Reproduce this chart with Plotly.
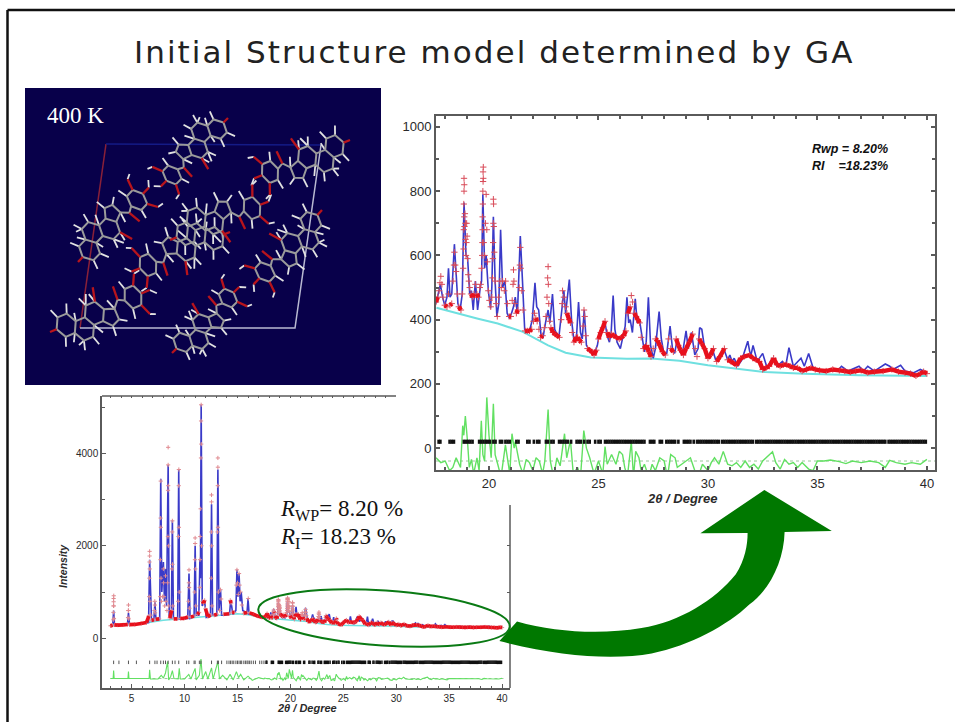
import math
import plotly.graph_objects as go

W, H = 955, 722

# ---------- values ----------
calc_lo_tt = [3.00,3.22,3.30,3.38,4.60,4.70,4.80,6.00,6.60,6.70,
              6.80,6.88,7.10,7.20,7.30,7.65,7.75,7.85,8.00,8.10,
              8.20,8.30,8.45,8.55,8.75,8.85,8.95,9.35,9.45,9.55,
              10.30,10.42,10.52,10.90,11.00,11.10,11.35,11.45,11.50,11.57,
              11.67,11.90,12.05,12.45,12.55,12.65,13.05,13.15,13.25,13.40,
              13.50,14.25,14.35,14.45,14.55,14.85,14.95,15.05,15.15,15.25,
              15.35,15.50,15.90,16.00,16.10,16.60,17.00,17.40]
calc_lo = [275,290,600,290,290,550,295,320,340,1700,
           600,370,390,780,400,410,3450,1000,1650,800,
           1500,700,3750,500,430,2550,430,410,3650,420,
           430,1400,430,470,2000,500,500,1700,1300,5050,
           700,800,450,480,2900,500,500,3650,600,1050,
           500,520,800,700,520,600,1480,900,1400,800,
           1000,600,550,850,520,520,480,450]

calc_tt = [17.58,17.68,17.78,17.88,17.98,18.08,18.15,18.22,18.30,18.42,
           18.50,18.58,18.68,18.78,18.86,18.95,19.02,19.12,19.20,19.28,
           19.38,19.48,19.60,19.66,19.72,19.80,19.87,19.97,20.07,20.13,
           20.20,20.28,20.36,20.45,20.53,20.62,20.73,20.83,20.93,21.03,
           21.12,21.20,21.30,21.43,21.53,21.63,21.75,21.87,21.98,22.10,
           22.18,22.27,22.38,22.47,22.58,22.70,22.78,22.90,23.00,23.10,
           23.20,23.32,23.42,23.50,23.67,23.77,23.88,24.00,24.09,24.18,
           24.26,24.35,24.45,24.58,24.70,24.82,24.95,25.05,25.15,25.30,
           25.40,25.50,25.58,25.67,25.75,25.85,26.00,26.10,26.22,26.30,
           26.38,26.45,26.55,26.68,26.77,26.87,26.97,27.10,27.18,27.28,
           27.38,27.50,27.60,27.77,27.87,28.00,28.12,28.27,28.38,28.48,
           28.60,28.72,28.85,29.00,29.10,29.25,29.40,29.55,29.62,29.72,
           29.85,30.00,30.20,30.35,30.55,30.75,30.90,31.00,31.10,31.20,
           31.35,31.55,31.82,31.95,32.06,32.25,32.50,32.70,32.95,33.15,
           33.40,33.55,33.70,33.90,34.25,34.40,34.60,34.80,35.10,35.50,
           35.90,36.10,36.40,36.90,37.10,37.30,37.60,38.10,38.30,38.45,
           38.80,39.00,39.40,39.70,40.00]
calc = [450,480,510,470,445,470,560,470,480,635,
        540,450,430,480,765,600,595,480,490,430,
        520,430,500,520,790,560,600,490,435,500,
        720,520,410,450,680,500,520,420,405,420,
        440,470,420,660,520,370,365,370,400,515,
        440,430,350,345,390,430,390,480,370,355,
        350,430,490,420,525,400,335,350,455,360,
        340,430,320,305,300,295,320,360,370,390,
        350,330,360,475,370,330,310,340,380,470,
        390,400,360,465,390,400,350,300,330,470,
        320,280,310,425,340,290,295,380,310,295,
        340,300,300,365,310,360,290,310,375,370,
        310,285,310,275,290,305,275,290,270,280,
        255,275,333,285,320,270,295,250,280,255,
        270,255,313,255,280,255,295,250,240,243,
        240,255,240,255,240,255,240,262,255,245,
        258,240,235,245,235]

obs_lo_tt = [3.00,3.10,3.20,3.27,3.28,3.29,3.30,3.30,3.31,3.31,3.33,3.38,3.70,4.20,4.62,4.66,4.68,4.70,4.71,4.73,
             4.80,5.30,5.90,6.40,6.62,6.66,6.68,6.69,6.70,6.70,6.71,6.73,6.80,6.90,7.10,7.16,7.19,7.20,7.22,7.30,
             7.60,7.70,7.72,7.74,7.75,7.76,7.78,7.82,7.92,8.00,8.02,8.06,8.12,8.20,8.24,8.34,8.40,8.43,8.44,8.45,
             8.45,8.46,8.47,8.50,8.60,8.78,8.82,8.84,8.85,8.86,8.90,9.00,9.30,9.40,9.43,9.45,9.46,9.47,9.50,9.60,
             9.95,10.30,10.38,10.41,10.42,10.43,10.46,10.60,10.88,10.96,10.98,11.00,11.00,11.02,11.06,11.20,11.38,11.44,11.46,11.48,
             11.52,11.55,11.56,11.57,11.58,11.60,11.70,11.80,11.90,11.98,12.20,12.46,12.52,12.54,12.55,12.55,12.56,12.60,12.80,13.06,
             13.12,13.14,13.15,13.15,13.16,13.20,13.30,13.40,13.46,13.70,14.20,14.32,14.40,14.50,14.70,14.90,14.95,15.00,15.08,15.15,
             15.20,15.30,15.42,15.60,15.90,16.02,16.15,16.50,16.90,17.30]
obs_lo = [270,275,285,400,560,700,790,860,920,700,430,290,285,290,300,450,600,720,600,420,
          295,300,320,340,480,900,1300,1650,1780,1880,1500,800,500,390,400,600,800,720,550,410,
          420,900,1700,2600,3400,2400,1300,800,900,1500,1200,900,700,1350,800,600,1200,2200,3200,3750,
          4130,3300,2000,700,440,600,1500,2300,2540,1600,700,420,420,800,2200,3300,3650,2400,1000,430,
          430,460,800,1200,1480,1100,650,460,480,1000,1700,2170,2050,1500,700,520,560,1100,1700,2200,
          2800,3900,4700,5050,4200,2000,800,760,820,640,470,500,1300,2300,3100,2950,2000,700,500,520,
          2300,3300,3900,3700,2400,1000,600,1050,850,520,530,820,760,560,560,1150,1480,1200,950,1400,
          1150,1000,720,540,560,860,550,520,480,455]

obs_tt = [17.58,17.66,17.72,17.76,17.80,17.85,17.90,17.98,18.08,18.15,18.22,18.30,18.36,18.40,18.42,18.46,18.50,18.55,18.62,18.72,
          18.78,18.82,18.84,18.85,18.85,18.86,18.86,18.87,18.87,18.88,18.90,18.92,18.93,18.95,18.97,18.98,19.00,19.02,19.05,19.08,
          19.12,19.18,19.25,19.32,19.38,19.45,19.52,19.58,19.62,19.66,19.69,19.70,19.71,19.71,19.72,19.72,19.73,19.73,19.74,19.74,
          19.76,19.80,19.84,19.87,19.90,19.93,19.97,20.02,20.08,20.13,20.16,20.18,20.19,20.20,20.20,20.21,20.22,20.24,20.28,20.33,
          20.38,20.44,20.50,20.56,20.62,20.70,20.76,20.84,20.92,21.00,21.06,21.10,21.12,21.14,21.18,21.25,21.32,21.38,21.41,21.43,
          21.45,21.50,21.56,21.65,21.75,21.85,21.95,22.03,22.08,22.14,22.20,22.28,22.36,22.45,22.53,22.60,22.65,22.68,22.70,22.71,
          22.73,22.77,22.83,22.92,23.02,23.12,23.22,23.30,23.34,23.36,23.42,23.50,23.56,23.66,23.72,23.80,23.88,23.98,24.05,24.14,
          24.22,24.30,24.34,24.37,24.42,24.50,24.60,24.70,24.80,24.90,25.00,25.10,25.20,25.30,25.40,25.50,25.60,25.70,25.82,25.95,
          26.05,26.15,26.25,26.35,26.45,26.50,26.56,26.64,26.72,26.80,26.88,26.95,27.05,27.20,27.30,27.40,27.50,27.60,27.70,27.80,
          27.92,28.05,28.20,28.30,28.42,28.55,28.65,28.75,28.88,29.00,29.15,29.30,29.42,29.50,29.60,29.72,29.85,30.00,30.12,30.25,
          30.40,30.55,30.75,30.90,31.05,31.30,31.50,31.65,31.90,32.05,32.20,32.35,32.50,32.65,32.80,33.00,33.15,33.30,33.45,33.60,
          33.75,33.90,34.10,34.30,34.50,34.70,34.90,35.10,35.40,35.70,36.00,36.25,36.50,36.75,37.00,37.30,37.60,38.00,38.40,38.70,
          39.00,39.25,39.50,39.70,39.85,40.00]
obs = [455,470,490,515,535,510,470,445,440,480,445,450,520,570,610,570,550,480,440,430,
       480,560,620,680,760,800,840,820,720,690,730,700,650,600,640,700,660,590,540,520,
       500,480,470,480,510,480,470,500,510,560,600,640,680,720,760,800,830,860,875,840,
       640,600,700,790,680,580,490,460,440,470,530,590,640,700,775,760,690,610,520,450,
       410,470,520,500,520,490,520,450,410,410,460,510,555,520,450,420,430,500,570,625,
       560,490,430,365,365,365,370,395,420,405,395,370,345,350,375,410,470,530,565,510,
       450,395,375,360,355,350,345,400,450,490,470,440,420,400,390,360,330,345,345,335,
       330,380,430,410,350,310,305,300,290,305,340,360,375,395,360,345,355,350,345,340,
       345,350,365,420,440,475,455,420,410,400,390,345,310,320,300,285,310,340,335,320,
       300,290,340,310,300,340,320,305,290,310,330,355,310,285,340,325,310,280,290,310,
       270,285,310,275,270,258,280,285,290,280,275,270,245,250,255,280,260,255,260,260,
       255,250,250,240,245,250,245,242,240,245,242,240,237,240,242,235,238,240,245,238,
       235,232,225,232,238,232]

bkg_tt = [3.0,6.0,8.0,10.0,12.0,14.0,15.0,16.0,17.0,17.6,18.5,19.5,20.4,21.55,22.7,23.5,24.65,26.3,27.4,28.7,30.0,31.3,32.6,34.4,36.9,40.0]
bkg = [265,320,390,430,470,500,530,510,470,437,420,403,388,362,320,297,282,278,279,272,258,248,237,232,227,225]

diff_lo_tt = [3.00,3.25,3.30,3.35,4.65,4.70,4.75,6.65,6.70,6.78,7.50,7.80,8.00,8.20,8.40,8.50,8.70,8.85,9.00,9.40,
              9.50,9.60,10.00,10.40,10.60,11.00,11.10,11.40,11.55,11.70,12.00,12.20,12.55,12.70,13.15,13.30,13.60,14.00,14.30,14.60,
              14.90,15.10,15.30,15.60,16.00,16.40,17.00,17.50]
diff_lo = [-870,-870,-700,-870,-870,-720,-870,-870,-680,-880,-880,-800,-860,-750,-500,-900,-820,-700,-870,-880,
           -650,-880,-880,-780,-880,-650,-900,-800,-450,-880,-720,-880,-640,-880,-500,-880,-800,-900,-780,-900,
           -720,-850,-780,-900,-820,-910,-850,-880]

diff_tt = [17.58,17.80,18.00,18.20,18.35,18.50,18.70,18.80,18.85,18.92,19.02,19.10,19.20,19.30,19.45,19.55,19.65,19.72,19.80,19.90,
           20.00,20.10,20.20,20.28,20.40,20.55,20.75,20.85,20.95,21.05,21.15,21.20,21.30,21.40,21.55,21.70,21.85,22.00,22.15,22.30,
           22.45,22.55,22.70,22.80,22.95,23.10,23.25,23.45,23.55,23.72,23.85,24.05,24.18,24.33,24.45,24.60,24.80,25.00,25.20,25.30,
           25.40,25.60,25.80,25.95,26.10,26.20,26.32,26.50,26.60,26.70,26.85,26.95,27.10,27.30,27.45,27.60,27.80,28.00,28.15,28.30,
           28.50,28.60,28.80,29.00,29.20,29.40,29.60,29.75,30.00,30.15,30.30,30.50,30.70,30.90,31.10,31.30,31.50,31.70,31.90,32.10,
           32.30,32.50,32.95,33.10,33.30,33.50,33.70,33.90,34.10,34.30,34.60,34.80,35.00,35.30,35.60,36.00,36.30,36.60,37.00,37.40,
           37.80,38.10,38.30,38.60,39.00,39.30,39.70,40.00]
diff = [-30,-45,-40,-70,-60,-30,-60,70,40,100,20,-60,-35,-80,-30,-70,85,-20,-40,158,
        40,-30,138,-20,-50,-90,10,-30,-80,45,0,20,-10,-50,-80,-35,-45,-70,-30,-40,
        -80,-40,120,-40,-90,-30,-55,45,-30,25,-80,-60,-90,55,0,-30,-80,-40,-80,5,
        -50,-20,-50,-10,-20,-60,-90,20,-90,-10,-30,-70,-50,-90,-50,-70,-30,-40,-90,-20,
        -30,-60,-50,-40,-30,-70,-80,-50,-70,-45,-30,-50,-10,-50,-55,-45,-60,-40,-60,-50,
        -65,-40,-11,-45,-65,-35,-50,-45,-60,-45,-65,-70,-40,-40,-37,-42,-48,-40,-45,-40,
        -45,-60,-38,-45,-50,-45,-50,-35]

refl_lo = [3.3,3.8,4.7,5.45,6.7,7.2,7.4,7.75,8.0,8.2,8.45,8.85,9.1,9.45,10.2,10.4,10.9,11.0,11.4,11.55,
           12.55,13.1,13.2,13.5,14.0,14.2,14.35,14.5,14.65,14.85,15.0,15.15,15.3,15.4,15.6,15.75,15.9,16.0,16.15,16.3,
           16.5,16.7,17.1,17.3,17.5]
refl = [17.7,17.78,18.2,18.3,18.4,18.85,18.95,19.05,19.15,19.25,19.55,19.65,19.75,19.85,19.95,20.05,20.2,20.3,20.5,20.6,
        20.75,20.85,20.95,21.25,21.35,21.75,21.85,22.05,22.2,22.3,22.6,22.7,22.85,22.95,23.2,23.3,23.4,23.5,23.6,23.75,
        24.0,24.1,24.2,24.35,24.5,24.6,24.85,25.0,25.1,25.3,25.4,25.5,25.6,25.7,25.8,25.9,26.0,26.1,26.2,26.3,
        26.4,26.5,26.6,26.7,26.8,26.9,27.0,27.1,27.35,27.45,27.55,27.8,27.9,28.1,28.2,28.3,28.4,28.5,28.65,28.9,
        29.0,29.1,29.2,29.35,29.5,29.6,29.7,29.8,29.9,30.0,30.1,30.2,30.3,30.4,30.5,30.65,30.75,30.85,30.95,31.05,
        31.15,31.25,31.35,31.45,31.55,31.65,31.75,31.85,31.95,32.05,32.2,32.3,32.4,32.5,32.6,32.7,32.8,32.9,33.0,33.1,
        33.2,33.3,33.4,33.5,33.6,33.7,33.8,33.9,34.0,34.1,34.2,34.3,34.4,34.5,34.6,34.7,34.8,34.9,35.0,35.1,
        35.2,35.3,35.4,35.5,35.6,35.7,35.8,35.9,36.0,36.1,36.2,36.3,36.4,36.5,36.6,36.7,36.8,36.9,37.0,37.1,
        37.2,37.3,37.4,37.5,37.6,37.7,37.8,37.9,38.0,38.1,38.25,38.35,38.45,38.55,38.65,38.75,38.85,38.95,39.05,39.15,
        39.25,39.35,39.45,39.55,39.65,39.75,39.85,39.95]

x_major_ticks = [5, 10, 15, 20, 25, 30, 35, 40]
top_ticks_left = [3,4,5,6,7,8,9,10,11,12,13,14,15,16,17,18,19,20,21,22,23,24,25,26,27,28,29]
right_ticks_left = [0, 1000, 2000]

DIFF_OFFSET_LEFT = -830

# crystal packing: ketone oxygen and sugar centre of each molecule on the panel
mol_ketone_x = [228, 78, 172, 322, 170, 230, 350, 50]
mol_ketone_y = [118, 262, 353, 210, 240, 232, 140, 332]
mol_sugar_x = [172, 137, 228, 265, 252, 148, 270, 133]
mol_sugar_y = [175, 200, 298, 272, 208, 265, 172, 297]
mol_flip = [1, -1, 1, -1, -1, 1, -1, 1]
MOL_WIDEN = 1.3

carbon_paths = [
    [(.08,0),(.14,.09),(.25,.09),(.31,0),(.25,-.09),(.14,-.09),(.08,0)],
    [(.25,.09),(.31,.18),(.42,.18),(.48,.09),(.42,0),(.31,0)],
    [(.48,.09),(.59,.09),(.65,0),(.59,-.09),(.48,-.09),(.42,0)],
    [(.59,.09),(.67,.16),(.76,.13),(.76,.03),(.65,0)],
    [(.76,.03),(.83,-.03),(.90,0)],
    [(.90,0),(.95,.09),(1.05,.09),(1.10,0),(1.05,-.09),(.95,-.09),(.90,0)],
]
hydrogen_bonds = [
    (.14,.09,.10,.17),(.14,-.09,.10,-.17),(.25,-.09,.29,-.17),(.31,.18,.28,.26),(.42,.18,.45,.26),
    (.31,.18,.24,.2),(.48,.09,.54,.18),(.48,-.09,.44,-.17),(.48,-.09,.53,-.18),(.59,-.09,.56,-.17),
    (.67,.16,.66,.25),(.76,.13,.84,.17),(.76,.03,.72,-.06),(.95,.09,.93,.18),(.95,-.09,.92,-.17),
    (1.10,.19,1.16,.21),(1.11,-.18,1.18,-.19),(1.20,0,1.26,.05),(.31,0,.33,-.07),(.25,.09,.20,.16),
]
oxygen_bonds = [
    (0,0,.08,0),(.83,-.03,.84,-.15),(1.05,.09,1.10,.19),(1.05,-.09,1.11,-.18),(1.10,0,1.20,0),(.59,-.09,.63,-.21),
]

# ---------- helpers ----------
def dom_x(a, b):
    return [a / W, b / W]

def dom_y(top, bottom):
    return [1 - bottom / H, 1 - top / H]

def flat_runs(xs, ys, sx, sy, limit):
    """Keep only the gently sloping runs, so the red line thickens along the base."""
    ox, oy = [], []
    for i in range(len(xs) - 1):
        dx = max(abs(xs[i + 1] - xs[i]) * sx, 0.01)
        dy = abs(ys[i + 1] - ys[i]) * sy
        if dy / dx < limit:
            ox += [xs[i], xs[i + 1], None]
            oy += [ys[i], ys[i + 1], None]
    return ox, oy

def place(u, v, k):
    kx, ky = mol_ketone_x[k], mol_ketone_y[k]
    dx, dy = mol_sugar_x[k] - kx, mol_sugar_y[k] - ky
    f = mol_flip[k] * MOL_WIDEN
    return kx + u * dx - f * v * dy, ky + u * dy + f * v * dx

def molecule_lines():
    gx, gy, wx, wy, rx, ry = [], [], [], [], [], []
    for k in range(len(mol_flip)):
        for path in carbon_paths:
            for (u, v) in path:
                a, b = place(u, v, k)
                gx.append(a); gy.append(b)
            gx.append(None); gy.append(None)
        for (u1, v1, u2, v2) in hydrogen_bonds:
            a, b = place(u1, v1, k); c, d = place(u2, v2, k)
            wx += [a, c, None]; wy += [b, d, None]
        for (u1, v1, u2, v2) in oxygen_bonds:
            a, b = place(u1, v1, k); c, d = place(u2, v2, k)
            rx += [a, c, None]; ry += [b, d, None]
    return gx, gy, wx, wy, rx, ry

def ellipse_path(cx, cy, a, b, deg):
    t = math.radians(deg); c, s = math.cos(t), math.sin(t); m = 0.5523
    def p(u, v):
        return f"{cx + u * a * c - v * b * s:.1f},{cy + u * a * s + v * b * c:.1f}"
    return (f"M {p(1,0)} C {p(1,m)} {p(m,1)} {p(0,1)} C {p(-m,1)} {p(-1,m)} {p(-1,0)} "
            f"C {p(-1,-m)} {p(-m,-1)} {p(0,-1)} C {p(m,-1)} {p(1,-m)} {p(1,0)} Z")

# ---------- figure ----------
fig = go.Figure()
FRAME = "#5a5a5a"; TXT = "#2a2a2a"; BLUE = "#3a3ac8"; RED = "#e8101c"
CROSS = "#d84a58"; GREEN = "#62e062"; CYAN = "#6fe0e0"

# molecule panel
CELL = ["#8a2038", "#141a86", "#b9b9d2"]
fig.add_trace(go.Scatter(x=[106, 80], y=[144, 328], xaxis="x3", yaxis="y3", mode="lines",
                         line=dict(color=CELL[0], width=1.5)))
fig.add_trace(go.Scatter(x=[106, 321], y=[144, 145], xaxis="x3", yaxis="y3", mode="lines",
                         line=dict(color=CELL[1], width=1.5)))
fig.add_trace(go.Scatter(x=[80, 295, 321], y=[328, 328, 145], xaxis="x3", yaxis="y3", mode="lines",
                         line=dict(color=CELL[2], width=1.5)))
gx, gy, wx, wy, rx, ry = molecule_lines()
fig.add_trace(go.Scatter(x=wx, y=wy, xaxis="x3", yaxis="y3", mode="lines", line=dict(color="#e2e2e2", width=1.8)))
fig.add_trace(go.Scatter(x=gx, y=gy, xaxis="x3", yaxis="y3", mode="lines", line=dict(color="#9a9a9a", width=2)))
fig.add_trace(go.Scatter(x=rx, y=ry, xaxis="x3", yaxis="y3", mode="lines", line=dict(color="#b8141c", width=2.3)))

# left (full range) pattern
all_calc_tt = calc_lo_tt + calc_tt
all_calc = calc_lo + calc
all_obs_tt = obs_lo_tt + obs_tt
all_obs = obs_lo + obs
all_diff_tt = diff_lo_tt + diff_tt
all_diff = diff_lo + [d + DIFF_OFFSET_LEFT for d in diff]
L_X, L_Y = 10.6, 0.04625
fig.add_trace(go.Scatter(x=bkg_tt, y=bkg, xaxis="x2", yaxis="y2", mode="lines", line=dict(color=CYAN, width=1.5)))
fig.add_trace(go.Scatter(x=all_calc_tt, y=all_calc, xaxis="x2", yaxis="y2", mode="lines", line=dict(color=BLUE, width=1.6)))
fig.add_trace(go.Scatter(x=all_obs_tt, y=all_obs, xaxis="x2", yaxis="y2", mode="markers",
                         marker=dict(symbol="cross-thin", size=3, line=dict(color="#e08a90", width=1))))
lx, ly = flat_runs(all_obs_tt, all_obs, L_X, L_Y, 4)
fig.add_trace(go.Scatter(x=lx, y=ly, xaxis="x2", yaxis="y2", mode="lines", line=dict(color=RED, width=3.6)))
fig.add_trace(go.Scatter(x=[3, 40.2], y=[-870, -870], xaxis="x2", yaxis="y2", mode="lines",
                         line=dict(color="#9ac89a", width=1, dash="dot")))
fig.add_trace(go.Scatter(x=all_diff_tt, y=all_diff, xaxis="x2", yaxis="y2", mode="lines", line=dict(color=GREEN, width=1.1)))
fig.add_trace(go.Scatter(x=refl_lo, y=[-520] * len(refl_lo), xaxis="x2", yaxis="y2", mode="markers",
                         marker=dict(symbol="line-ns", size=2.5, line=dict(color="#555555", width=1))))
fig.add_trace(go.Scatter(x=refl, y=[-520] * len(refl), xaxis="x2", yaxis="y2", mode="markers",
                         marker=dict(symbol="line-ns", size=2.5, line=dict(color="#111111", width=1.5))))
# keeps the partial top and right tick rows of the left plot on the page
fig.add_trace(go.Scatter(x=[top_ticks_left[0]], y=[right_ticks_left[0]], xaxis="x5", yaxis="y5", mode="lines",
                         line=dict(width=0), showlegend=False))

# right (zoomed) pattern
R_X, R_Y = 21.9, 0.321
fig.add_trace(go.Scatter(x=[t for t in bkg_tt if t >= 17.6], y=[b for t, b in zip(bkg_tt, bkg) if t >= 17.6],
                         mode="lines", line=dict(color=CYAN, width=2)))
fig.add_trace(go.Scatter(x=calc_tt, y=calc, mode="lines", line=dict(color=BLUE, width=1.6)))
fig.add_trace(go.Scatter(x=obs_tt, y=obs, mode="markers",
                         marker=dict(symbol="cross-thin", size=4.5, line=dict(color=CROSS, width=1))))
rx2, ry2 = flat_runs(obs_tt, obs, R_X, R_Y, 3.2)
fig.add_trace(go.Scatter(x=rx2, y=ry2, mode="lines", line=dict(color=RED, width=4.4)))
fig.add_trace(go.Scatter(x=[17.58, 40.37], y=[-40, -40], mode="lines", line=dict(color="#9ac89a", width=1, dash="dot")))
fig.add_trace(go.Scatter(x=diff_tt, y=diff, mode="lines", line=dict(color=GREEN, width=1.4)))
fig.add_trace(go.Scatter(x=refl, y=[20] * len(refl), mode="markers",
                         marker=dict(symbol="line-ns", size=3, line=dict(color="#111111", width=2.6))))

right_font = dict(family="Liberation Sans", size=13, color=TXT)
left_font = dict(family="Liberation Sans", size=10, color=TXT)
axis_common = dict(showgrid=False, zeroline=False, ticks="inside", tickcolor=FRAME, showline=True, linecolor=FRAME)

fig.update_layout(
    width=W, height=H, margin=dict(l=0, r=0, t=0, b=0), autosize=False,
    paper_bgcolor="white", plot_bgcolor="rgba(0,0,0,0)", showlegend=False, hovermode=False,
    xaxis=dict(domain=dom_x(436, 935), range=[17.58, 40.37], anchor="y", tickvals=x_major_ticks, ticklen=4,
               tickwidth=1.5, linewidth=2, mirror="ticks", tickfont=right_font,
               minor=dict(dtick=1, ticks="inside", ticklen=3, tickcolor=FRAME), **axis_common),
    yaxis=dict(domain=dom_y(116, 470), range=[-68, 1034], anchor="x", dtick=200, tick0=0, ticklen=4,
               tickwidth=1.5, linewidth=2, mirror="ticks", tickfont=right_font,
               minor=dict(dtick=100, ticks="inside", ticklen=3, tickcolor=FRAME), **axis_common),
    xaxis2=dict(domain=dom_x(102, 510), range=[2.2, 40.75], anchor="y2", tickvals=x_major_ticks, ticklen=4,
                tickwidth=1.2, linewidth=1.5, tickfont=left_font,
                minor=dict(dtick=1, ticks="inside", ticklen=2, tickcolor=FRAME), **axis_common),
    yaxis2=dict(domain=dom_y(396, 688), range=[-1075, 5240], anchor="x2", tickvals=[0, 2000, 4000], ticklen=4,
                tickwidth=1.2, linewidth=1.5, tickfont=left_font,
                minor=dict(tickvals=[1000, 3000, 5000], ticks="inside", ticklen=3, tickcolor=FRAME), **axis_common),
    xaxis5=dict(overlaying="x2", anchor="y2", side="top", range=[2.2, 40.75], tickvals=top_ticks_left, ticks="inside",
                ticklen=2, tickcolor=FRAME, showticklabels=False, showgrid=False, zeroline=False, showline=False),
    yaxis5=dict(overlaying="y2", anchor="x2", side="right", range=[-1075, 5240], tickvals=right_ticks_left, ticks="inside",
                ticklen=3, tickcolor=FRAME, showticklabels=False, showgrid=False, zeroline=False, showline=False),
    xaxis3=dict(domain=dom_x(25, 381), range=[25, 381], anchor="y3", visible=False),
    yaxis3=dict(domain=dom_y(88, 385), range=[385, 88], anchor="x3", visible=False),
    xaxis9=dict(domain=[0, 1], range=[0, W], anchor="y9", visible=False),
    yaxis9=dict(domain=[0, 1], range=[H, 0], anchor="x9", visible=False),
)

arrow_path = ("M 700.4,533.2 L 764.4,490 L 831.8,531 L 784.6,531.9 C 784,560 770,590 749.3,604.6 "
              "C 728,625 690,646 651.6,653.4 C 615,660 560,657 499.4,641 L 517,621.4 "
              "C 555,632 600,635 641.5,628 C 680,622 715,600 735.8,574.3 C 745,560 747.6,545 747.6,533 Z")

px = dict(xref="x9", yref="y9")
fig.update_layout(shapes=[
    dict(type="rect", xref="x3", yref="y3", x0=25, x1=381, y0=88, y1=385, fillcolor="#08004a", line_width=0, layer="below"),
    dict(type="line", x0=7.5, x1=955, y0=10, y1=10, line=dict(color="#111111", width=2.5), layer="above", **px),
    dict(type="line", x0=7.5, x1=7.5, y0=10, y1=722, line=dict(color="#111111", width=2.5), layer="above", **px),
    dict(type="line", x0=102, x1=396, y0=396, y1=396, line=dict(color=FRAME, width=1.5), layer="above", **px),
    dict(type="line", x0=510, x1=510, y0=505, y1=688, line=dict(color=FRAME, width=1.5), layer="above", **px),
    dict(type="path", path=ellipse_path(384, 618, 126, 27.5, 4), line=dict(color="#0a7a14", width=2), layer="above", **px),
    dict(type="path", path=arrow_path, fillcolor="#007800", line_width=0, layer="above", **px),
])

def note(text, x, y, size, family="Liberation Serif", color="#111111", anchor="left", angle=0):
    return dict(text=text, x=x, y=y, xanchor=anchor, yanchor="middle", showarrow=False, textangle=angle,
                font=dict(family=family, size=size, color=color), **px)

SANS = "Liberation Sans"
fig.update_layout(annotations=[
    note("Initial Structure model determined by GA", 494, 52, 31, "DejaVu Sans", "#222222", "center"),
    note("400 K", 45, 115, 23, "Liberation Serif", "white"),
    note("<b><i>Rwp&nbsp;=&nbsp;8.20%</i></b>", 810, 149, 12.5, SANS),
    note("<b><i>RI&nbsp;&nbsp;&nbsp;&nbsp;=18.23%</i></b>", 810, 166, 12.5, SANS),
    note("<i>R</i><sub>WP</sub>= 8.20 %", 278, 510, 23),
    note("<i>R</i><sub>I</sub>= 18.23 %", 278, 538, 23),
    note("<b><i>2θ / Degree</i></b>", 682, 498, 13, SANS, TXT, "center"),
    note("<b><i>2θ / Degree</i></b>", 307, 708, 11, SANS, TXT, "center"),
    note("<b><i>Intensity</i></b>", 63, 566, 10.5, SANS, TXT, "center", -90),
])

spacing = """
function spaceTitle(){
  document.querySelectorAll('text.annotation-text').forEach(function(t){
    if(t.textContent.indexOf('Initial')===0){ t.style.letterSpacing='2.05px'; }
  });
}
document.body.style.margin='0';
spaceTitle(); setTimeout(spaceTitle, 50); setTimeout(spaceTitle, 300);
"""
fig.write_html("out.html", post_script=spacing, config=dict(displayModeBar=False))
